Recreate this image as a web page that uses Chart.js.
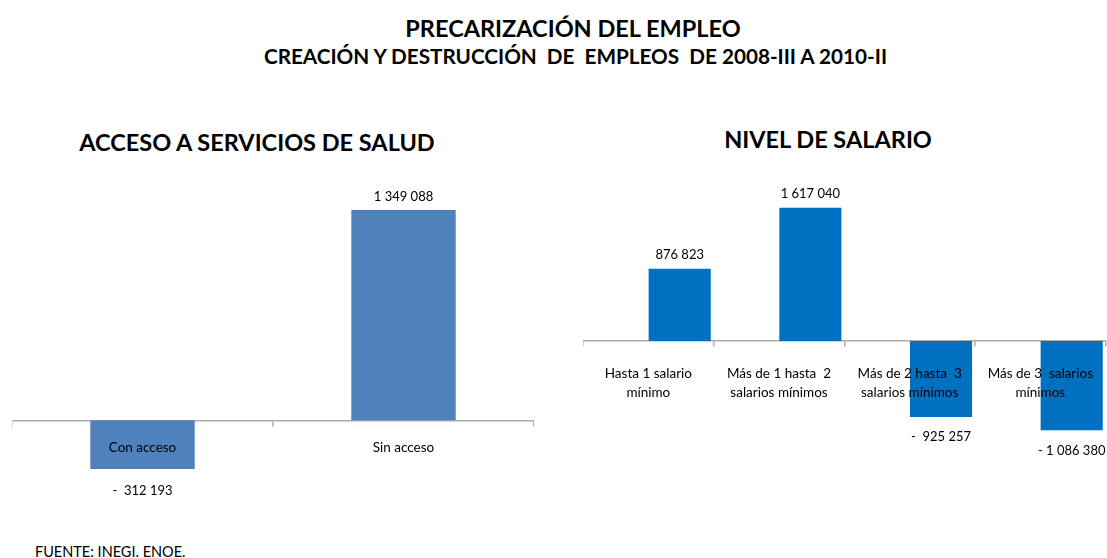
<!DOCTYPE html>
<html><head><meta charset="utf-8">
<script src="https://cdn.jsdelivr.net/npm/chart.js@4"></script>
<style>
body{margin:0;width:1107px;height:558px;background:#fff;position:relative;overflow:hidden;font-family:Lato,'Open Sans',sans-serif;color:#000;}
.t{position:absolute;white-space:pre;text-align:center;line-height:1;}
.box{position:absolute;}
</style></head><body>
<div class="t" style="left:0;width:1146px;top:17px;font-size:23.5px;font-weight:bold;">PRECARIZACIÓN DEL EMPLEO</div>
<div class="t" style="left:0;width:1151px;top:46px;font-size:20.7px;font-weight:bold;">CREACIÓN Y DESTRUCCIÓN  DE  EMPLEOS  DE 2008-III A 2010-II</div>
<div class="t" style="left:57px;width:400px;top:131px;font-size:23.5px;font-weight:bold;">ACCESO A SERVICIOS DE SALUD</div>
<div class="t" style="left:628px;width:400px;top:128px;font-size:23.5px;font-weight:bold;">NIVEL DE SALARIO</div>
<div class="t" style="left:35px;top:545px;font-size:14.5px;text-align:left;">FUENTE: INEGI. ENOE.</div>
<div class="box" style="left:12px;top:150px;width:522px;height:370px;"><canvas id="c1"></canvas></div>
<div class="box" style="left:583px;top:150px;width:528px;height:330px;"><canvas id="c2"></canvas></div>
<script>
const saludCategories = ['Con acceso', 'Sin acceso'];
const saludValues = [-312193, 1349088];
const salarioCategories = [['Hasta 1 salario', 'mínimo'], ['Más de 1 hasta  2', 'salarios mínimos'], ['Más de 2 hasta  3', 'salarios mínimos'], ['Más de 3  salarios', 'mínimos']];
const salarioValues = [876823, 1617040, -925257, -1086380];

function fmt(v) {
  const s = Math.abs(v).toString().replace(/\B(?=(\d{3})+(?!\d))/g, ' ');
  if (v >= 0) return s;
  return (s.length < 9 ? '-  ' : '- ') + s;
}

const valueLabels = {
  id: 'valueLabels',
  afterDatasetsDraw(chart, args, opts) {
    const ctx = chart.ctx;
    ctx.save();
    ctx.font = '13px Lato';
    ctx.fillStyle = '#000';
    ctx.textAlign = 'center';
    ctx.textBaseline = 'middle';
    chart.data.datasets.forEach((ds, di) => {
      const meta = chart.getDatasetMeta(di);
      meta.data.forEach((el, i) => {
        const v = ds.data[i];
        if (v == null) return;
        const y = v >= 0 ? el.y - opts.above : el.y + opts.below;
        ctx.fillText(fmt(v), el.x, y);
      });
    });
    ctx.restore();
  }
};

function xScale(padding) {
  return {
    position: { y: 0 },
    offset: true,
    border: { display: true, color: '#ABABAB', width: 1.5 },
    grid: { offset: true, drawOnChartArea: false, drawTicks: true, tickLength: 5, color: '#ABABAB', lineWidth: 1.5 },
    ticks: { z: 1, color: '#000', font: { family: 'Lato', size: 13.5, lineHeight: 1.4 }, padding: padding, maxRotation: 0, autoSkip: false }
  };
}

new Chart(document.getElementById('c1'), {
  type: 'bar',
  data: {
    labels: saludCategories,
    datasets: [{ data: saludValues, backgroundColor: '#4F81BD', barPercentage: 0.8, categoryPercentage: 0.5 }]
  },
  plugins: [valueLabels],
  options: {
    responsive: true, maintainAspectRatio: false, animation: false,
    layout: { padding: 0 },
    plugins: { legend: { display: false }, tooltip: { enabled: false }, valueLabels: { above: 13, below: 22 } },
    scales: {
      x: xScale(13),
      y: { display: false, min: -640000, max: 1735000 }
    }
  }
});

new Chart(document.getElementById('c2'), {
  type: 'bar',
  data: {
    labels: salarioCategories,
    datasets: [
      { data: salarioValues.map(() => null), backgroundColor: 'rgba(0,0,0,0)', barPercentage: 0.99, categoryPercentage: 0.96 },
      { data: salarioValues, backgroundColor: '#0070C0', barPercentage: 0.99, categoryPercentage: 0.96 }
    ]
  },
  plugins: [valueLabels],
  options: {
    responsive: true, maintainAspectRatio: false, animation: false,
    layout: { padding: 0 },
    plugins: { legend: { display: false }, tooltip: { enabled: false }, valueLabels: { above: 14, below: 20 } },
    scales: {
      x: xScale(18),
      y: { display: false, min: -1690000, max: 2320000 }
    }
  }
});
</script>
</body></html>
